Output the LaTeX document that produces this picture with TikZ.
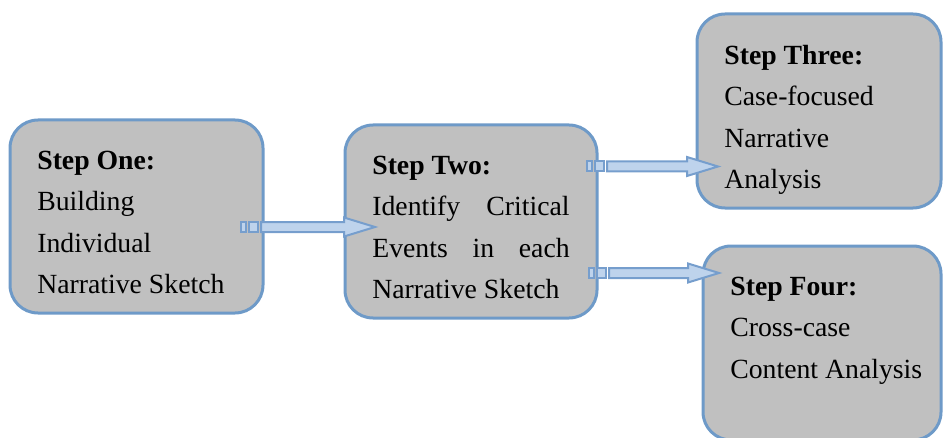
\documentclass[tikz,border=0pt]{standalone}
\usepackage{fontspec}
\setmainfont{Liberation Serif}
\usetikzlibrary{calc}

\definecolor{boxgray}{RGB}{192,192,192}
\definecolor{boxblue}{RGB}{110,154,200}
\definecolor{arrowfill}{RGB}{190,211,236}
\definecolor{arrowblue}{RGB}{118,158,205}

% text block of a step box: height, width, lines
\newcommand{\steptext}[3]{\parbox[c][#1][t]{#2}{\vspace*{23.25pt}#3}}

% striped block arrow from a start point to a tip (both horizontal)
\newcommand{\stripedarrow}[2]{%
  \draw[arrowbody] ($(#1)+(0,-5)$) rectangle ($(#1)+(5,5)$);
  \draw[arrowbody] ($(#1)+(8,-5)$) rectangle ($(#1)+(17,5)$);
  \draw[arrowbody] ($(#1)+(20,-5)$) -- ($(#2)+(-31,-5)$) -- ($(#2)+(-31,-9.5)$)
    -- (#2) -- ($(#2)+(-31,9.5)$) -- ($(#2)+(-31,5)$) -- ($(#1)+(20,5)$) -- cycle;
}

\begin{document}
\begin{tikzpicture}[x=0.75pt,y=-0.75pt,
  stepbox/.style={draw=boxblue,fill=boxgray,line width=2.25pt,rounded corners=21pt,
    inner xsep=20.5pt,inner ysep=0pt,outer sep=0pt,anchor=north west,
    font=\fontsize{20.8pt}{31.1pt}\selectfont},
  arrowbody/.style={draw=arrowblue,fill=arrowfill,line width=1.5pt,line join=miter}]
\useasboundingbox (0,0) rectangle (944,438);

\node[stepbox](one) at (10,120) {\steptext{144.75pt}{148.75pt}{%
  \textbf{Step One:}\\ Building\\ Individual\\ Narrative Sketch}};
\node[stepbox](two) at (345,125) {\steptext{144.75pt}{148pt}{%
  \textbf{Step Two:}\\ Identify\hfill Critical\\ Events\hfill in\hfill each\\ Narrative Sketch}};
\node[stepbox](three) at (697,14) {\steptext{145.5pt}{142pt}{%
  \textbf{Step Three:}\\ Case-focused\\ Narrative\\ Analysis}};
\node[stepbox](four) at (703,246) {\steptext{145.5pt}{137.5pt}{%
  \textbf{Step Four:}\\ Cross-case\\ \mbox{Content Analysis}}};

\coordinate (s1) at ($(one.east)+(-22,10.5)$);
\coordinate (t1) at ($(two.west)+(30,5.5)$);
\coordinate (s2) at ($(two.east)+(-10,-55)$);
\coordinate (t2) at ($(three.west)+(21,55.5)$);
\coordinate (s3) at ($(two.east)+(-8,51.5)$);
\coordinate (t3) at ($(four.west)+(16,-70)$);

\stripedarrow{s1}{t1}
\stripedarrow{s2}{t2}
\stripedarrow{s3}{t3}
\end{tikzpicture}
\end{document}
